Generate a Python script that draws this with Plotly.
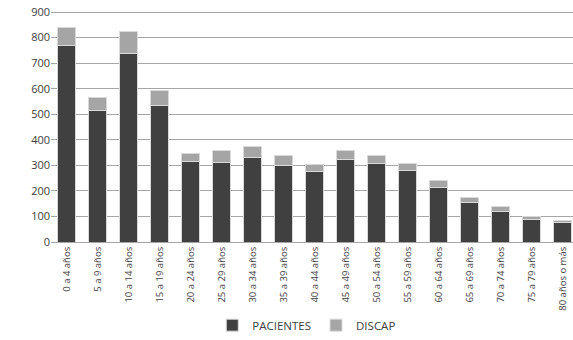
import plotly.graph_objects as go

# age groups and values
grupos = ['0 a 4 años', '5 a 9 años', '10 a 14 años', '15 a 19 años', '20 a 24 años',
          '25 a 29 años', '30 a 34 años', '35 a 39 años', '40 a 44 años', '45 a 49 años',
          '50 a 54 años', '55 a 59 años', '60 a 64 años', '65 a 69 años', '70 a 74 años',
          '75 a 79 años', '80 años o más']
pacientes = [768, 515, 737, 533, 314, 313, 330, 299, 275, 321, 309, 278, 215, 156, 121, 89, 76]
discap = [70, 52, 85, 58, 31, 47, 42, 39, 30, 39, 30, 30, 25, 19, 17, 10, 7]

fig = go.Figure()
fig.add_trace(go.Bar(x=grupos, y=pacientes, name='PACIENTES',
                     marker=dict(color='#404040', line=dict(color='#d9d9d9', width=1))))
fig.add_trace(go.Bar(x=grupos, y=discap, name='DISCAP',
                     marker=dict(color='#a5a5a5', line=dict(color='#d9d9d9', width=1))))

fig.update_layout(
    barmode='stack', bargap=0.42,
    width=573, height=340,
    margin=dict(l=51, r=0, t=11, b=98),
    plot_bgcolor='white', paper_bgcolor='white',
    font=dict(family='Open Sans, Liberation Sans, sans-serif', color='#404040', size=11),
    legend=dict(orientation='h', x=0.49, xanchor='center', y=-0.36, yanchor='middle',
                font=dict(size=11.5), itemwidth=30, traceorder='normal'),
)
fig.update_yaxes(range=[0, 904], dtick=100, showgrid=True, gridcolor='#a6a6a6',
                 gridwidth=1, zeroline=False, ticks='', tickfont=dict(size=11),
                 automargin=False, ticklabeloverflow='allow')
fig.update_xaxes(tickangle=-90, tickfont=dict(size=9.5), showline=True,
                 linecolor='#a6a6a6', ticks='', automargin=False, range=[-0.5, 16.34],
                 ticklabeloverflow='allow')

# drop the page's default body margin so the figure sits at the window corner
fig.write_html("out.html", config={'displayModeBar': False},
               post_script="document.body.style.margin='0';")
